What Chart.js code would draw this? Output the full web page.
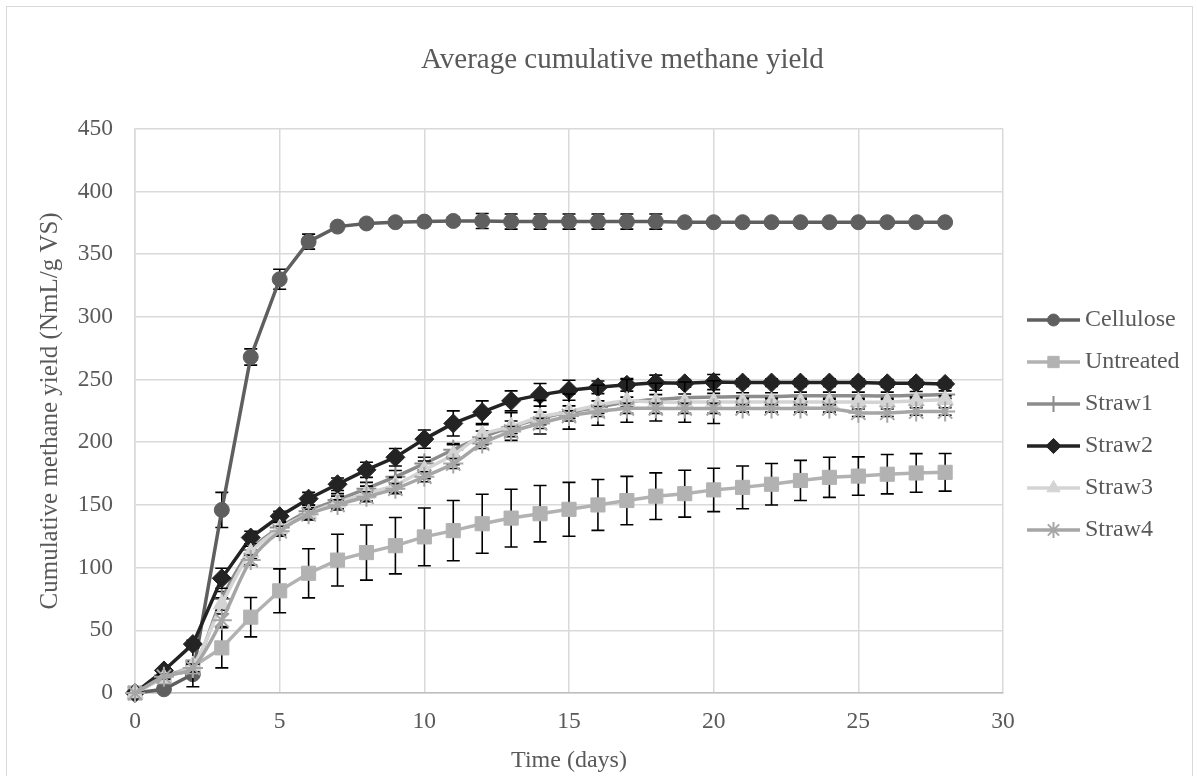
<!DOCTYPE html>
<html>
<head>
<meta charset="utf-8">
<script src="https://cdn.jsdelivr.net/npm/chart.js@4.4.1/dist/chart.umd.min.js"></script>
<style>
  html, body { margin: 0; padding: 0; background: #fff; }
  #wrap { position: relative; width: 1197px; height: 776px; overflow: hidden; }
  #frame { position: absolute; left: 6px; top: 6px; width: 1185px; height: 800px; border: 1px solid #d9d9d9; pointer-events: none; }
</style>
</head>
<body>
<div id="wrap">
  <canvas id="chart" width="1197" height="776"></canvas>
  <div id="frame"></div>
</div>
<script>
const days = [0, 1, 2, 3, 4, 5, 6, 7, 8, 9, 10, 11, 12, 13, 14, 15, 16, 17, 18, 19, 20, 21, 22, 23, 24, 25, 26, 27, 28];

const cellulose = [0, 3, 15, 146, 268, 330, 360, 372, 374.5, 375.5, 376, 376.5, 376.5, 376, 376, 376, 376, 376, 376, 375.5, 375.5, 375.5, 375.5, 375.5, 375.5, 375.5, 375.5, 375.5, 375.5];
const celluloseErr = [0, 1, 2, 14, 6.5, 8, 6, 2, 3, 3, 3, 3, 6, 6, 6, 6, 6, 6, 6, 0, 0, 0, 0, 0, 0, 0, 0, 0, 0];

const untreated = [0, 13, 21, 36, 60.5, 81.5, 95.5, 106, 112, 117.5, 124.5, 129.5, 135, 139.5, 143, 146.5, 150, 153.5, 157, 159, 162, 164, 166.5, 169.5, 172, 173, 174.5, 175.5, 176];
const untreatedErr = [0, 3, 16, 16, 15.7, 17.5, 19.6, 20.6, 22, 22.5, 23, 24, 23.5, 23, 22.5, 21.5, 20.3, 19.3, 18.6, 18.7, 17.3, 17, 16.5, 16, 16, 15.3, 15.7, 15.4, 15];

const straw1 = [0, 14, 20, 75, 114, 132, 145, 154, 163, 172.5, 183, 194, 204, 212, 219, 224, 228, 232, 234, 235.5, 236, 236.5, 236.5, 237, 237, 237, 237, 237.5, 238];
const straw1Err = [0, 2, 3, 6, 5, 5, 5, 5, 5, 5, 5, 5, 5, 5, 5, 5, 5, 4, 4, 3, 3, 3, 3, 3, 3, 3, 3, 3, 3];

const straw2 = [0, 18, 39, 91.5, 124, 141, 155, 166.5, 178, 188, 202.5, 215, 224, 233, 237.8, 241.5, 243.8, 245.8, 247.5, 247, 248, 247.6, 247.6, 247.6, 247.6, 247.6, 247, 247, 246.5];
const straw2Err = [0, 2, 3, 8, 5, 4, 5, 5, 6, 7, 7.3, 10, 9, 8, 9, 8, 5, 5, 6, 3, 6, 3, 3, 3, 3, 3, 3, 3, 3];

const straw3 = [0, 12, 22, 71, 112, 131, 143, 152, 159, 166, 178, 190, 206, 212.5, 220, 224.5, 229.5, 233, 232, 232, 232, 232, 232, 232, 232, 232, 232, 233, 234];
const straw3Err = [0, 2, 3, 5, 5, 5, 5, 5, 6, 6, 7, 8, 8, 11, 13.4, 14, 16, 17, 15, 16, 17, 3, 3, 3, 3, 3, 3, 3, 3];

const straw4 = [0, 13, 20, 58, 106, 129, 142.5, 150, 156.5, 163, 172.5, 183, 199, 208.5, 215, 221, 224.5, 227, 227, 227, 227, 227, 227, 227, 227, 223.5, 223.5, 224.5, 224.5];
const straw4Err = [0, 2, 3, 5, 4, 4, 4, 4, 4, 4, 4, 4, 4, 4, 4, 4, 4, 4, 4, 4, 4, 3, 3, 3, 3, 3, 3, 3, 3];

const FONT = "'Liberation Serif', 'Times New Roman', serif";
const TEXT = '#595959';

function pts(values) {
  return days.map((d, i) => ({ x: d, y: values[i] }));
}

function series(label, values, errors, color, style, radius, tension, order) {
  return {
    label,
    data: pts(values),
    errors,
    borderColor: color,
    backgroundColor: color,
    borderWidth: 3.5,
    pointStyle: style,
    pointRadius: radius,
    pointHoverRadius: radius,
    pointBorderWidth: (style === 'cross' || style === 'star') ? 2 : 1,
    pointBackgroundColor: color,
    pointBorderColor: color,
    tension,
    clip: false,
    order,
  };
}

const datasets = [
  series('Cellulose', cellulose, celluloseErr, '#5f5f5f', 'circle', 7.5, 0, 6),
  series('Untreated', untreated, untreatedErr, '#b2b2b2', 'rect', 10, 0, 5),
  series('Straw1', straw1, straw1Err, '#8c8c8c', 'cross', 10, 0.3, 4),
  series('Straw2', straw2, straw2Err, '#232323', 'rectRot', 9.5, 0, 3),
  series('Straw3', straw3, straw3Err, '#d4d4d4', 'triangle', 9.5, 0.3, 2),
  series('Straw4', straw4, straw4Err, '#a6a6a6', 'star', 10, 0.3, 1),
];

// small canvas with line + marker for each legend entry
function legendIcon(ds) {
  const c = document.createElement('canvas');
  c.width = 53; c.height = 22;
  const g = c.getContext('2d');
  g.strokeStyle = ds.borderColor;
  g.lineWidth = 3.5;
  g.beginPath(); g.moveTo(0, 11); g.lineTo(53, 11); g.stroke();
  g.fillStyle = ds.borderColor;
  g.lineWidth = ds.pointBorderWidth;
  Chart.helpers.drawPoint(g, { pointStyle: ds.pointStyle, radius: ds.pointRadius * 0.8, borderWidth: ds.pointBorderWidth, rotation: 0 }, 26.5, 11);
  return c;
}

const errorBars = {
  id: 'errorBars',
  beforeDatasetDraw(chart, args) {
    const ds = chart.data.datasets[args.index];
    if (!ds.errors) return;
    const ctx = chart.ctx, xs = chart.scales.x, ys = chart.scales.y;
    ctx.save();
    ctx.strokeStyle = '#000';
    ctx.lineWidth = 1.6;
    ds.data.forEach((p, i) => {
      const e = ds.errors[i];
      if (!e) return;
      const x = xs.getPixelForValue(p.x);
      const y1 = ys.getPixelForValue(p.y + e);
      const y2 = ys.getPixelForValue(p.y - e);
      ctx.beginPath();
      ctx.moveTo(x, y1); ctx.lineTo(x, y2);
      ctx.moveTo(x - 6.5, y1); ctx.lineTo(x + 6.5, y1);
      ctx.moveTo(x - 6.5, y2); ctx.lineTo(x + 6.5, y2);
      ctx.stroke();
    });
    ctx.restore();
  }
};

const tweakLayout = {
  id: 'tweakLayout',
  beforeLayout(chart) {
    const lg = chart.legend;
    if (lg && !lg._patched) {
      const fit = lg.fit.bind(lg);
      lg.fit = function () { fit(); this.width = 194; };
      lg._patched = true;
    }
  },
  afterLayout(chart) {
    const t = chart.titleBlock;
    if (t) {
      const w = t.right - t.left;
      t.left = 421; t.right = 421 + w;
    }
    const lg = chart.legend;
    if (lg) {
      lg.left = 1016; lg.right = 1016 + 194;
      lg.top += 37; lg.bottom += 37;
    }
  }
};

new Chart(document.getElementById('chart'), {
  type: 'line',
  data: { datasets },
  plugins: [errorBars, tweakLayout],
  options: {
    responsive: false,
    animation: false,
    layout: { padding: 0 },
    plugins: {
      title: {
        display: true,
        align: 'start',
        text: 'Average cumulative methane yield',
        color: TEXT,
        font: { family: FONT, size: 29, weight: 'normal' },
        padding: { top: 43, bottom: 51 },
      },
      legend: {
        position: 'right',
        align: 'center',
        labels: {
          usePointStyle: true,
          pointStyleWidth: 39,
          padding: 18,
          color: TEXT,
          font: { family: FONT, size: 24 },
          generateLabels(chart) {
            return chart.data.datasets.map((ds, i) => ({
              text: ds.label,
              fillStyle: ds.borderColor,
              strokeStyle: ds.borderColor,
              lineWidth: 0,
              pointStyle: legendIcon(ds),
              fontColor: TEXT,
              hidden: false,
              datasetIndex: i,
            }));
          }
        }
      },
      tooltip: { enabled: false },
    },
    scales: {
      x: {
        type: 'linear',
        min: 0,
        max: 30,
        ticks: { stepSize: 5, color: TEXT, font: { family: FONT, size: 23.5 }, padding: 15 },
        grid: { color: '#d9d9d9', lineWidth: 1.5, drawTicks: false },
        border: { color: '#bfbfbf', width: 1.5 },
        title: { display: true, text: 'Time (days)', color: TEXT, font: { family: FONT, size: 24 }, padding: { top: 0, bottom: 1 } },
        afterFit(s) { s.height = 83; },
      },
      y: {
        min: 0,
        max: 450,
        ticks: { stepSize: 50, color: TEXT, font: { family: FONT, size: 23.5 }, padding: 22 },
        grid: { color: '#d9d9d9', lineWidth: 1.5, drawTicks: false },
        border: { color: '#d9d9d9', width: 1.5 },
        title: { display: true, text: 'Cumulative methane yield (NmL/g VS)', color: TEXT, font: { family: FONT, size: 25 }, padding: { top: 35, bottom: 0 } },
        afterFit(s) { s.width = 135; },
      },
    },
  },
});
</script>
</body>
</html>
